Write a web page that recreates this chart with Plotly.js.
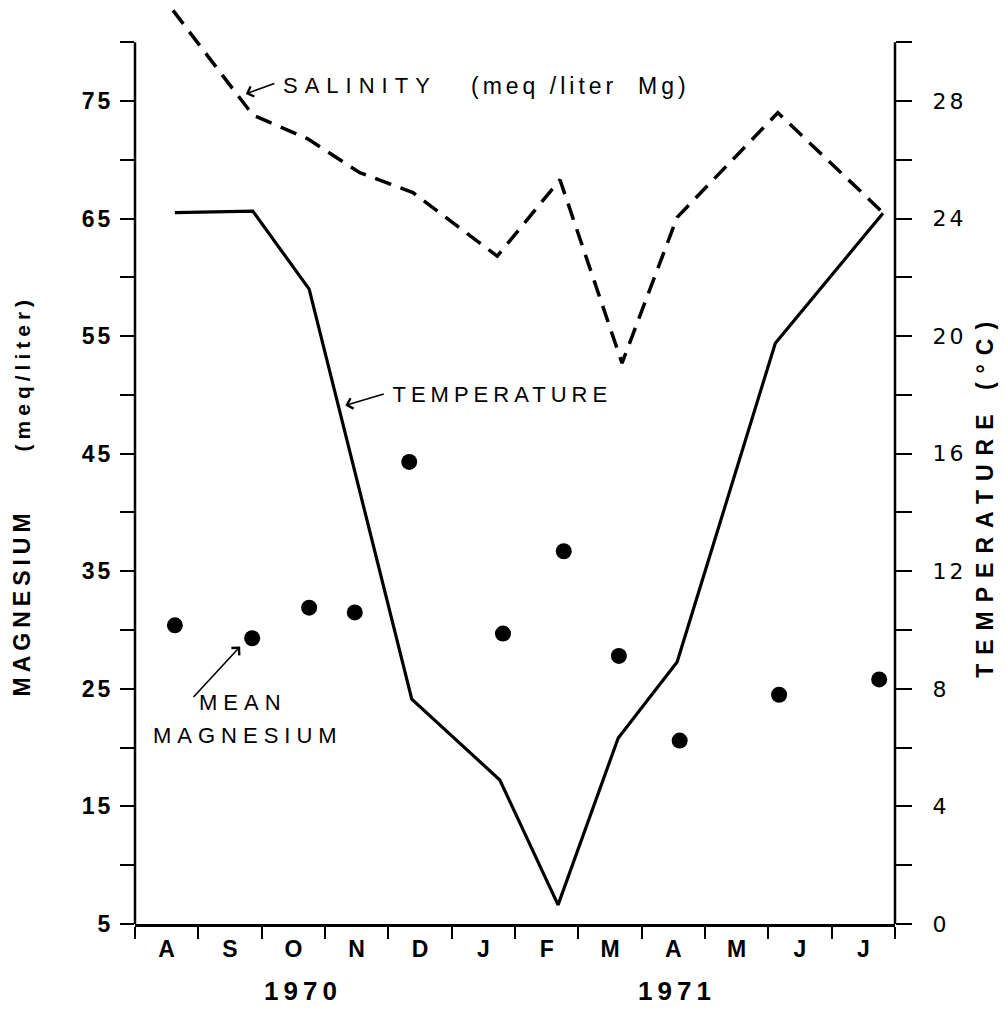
<!DOCTYPE html>
<html>
<head>
<meta charset="utf-8">
<script src="https://cdn.plot.ly/plotly-3.0.1.min.js"></script>
<style>
  html, body { margin: 0; padding: 0; background: #fff; }
  #chart { width: 1006px; height: 1010px; }
  .ytick text { letter-spacing: 3px; }
  .y2tick text { letter-spacing: 3px; }
  .annotation text { letter-spacing: 6px; }
  .annotation[data-index="0"] text { letter-spacing: 7px; }
  .annotation[data-index="1"] text { letter-spacing: 4px; }
  .annotation[data-index="2"] text { letter-spacing: 5px; }
  .annotation[data-index="5"] text, .annotation[data-index="6"] text { letter-spacing: 5px; }
  .annotation[data-index="7"] text { letter-spacing: 5px; }
  .annotation[data-index="8"] text { letter-spacing: 9px; }
</style>
</head>
<body>
<div id="chart"></div>
<script>
// ---- data ----
const monthLabels = ['A','S','O','N','D','J','F','M','A','M','J','J'];
const monthCenters = [0.5,1.5,2.5,3.5,4.5,5.5,6.5,7.5,8.5,9.5,10.5,11.5];
const yearLabels = ['1970','1971'];
const yearPositions = [2.65, 8.55];

// sampling dates in month units (0 = start of August 1970)
const salinityMonths = [0.60, 1.86, 2.72, 3.55, 4.39, 5.72, 6.71, 7.69, 8.56, 10.15, 11.81];
const salinityMg     = [82.7, 73.8, 71.8, 68.9, 67.2, 61.8, 68.3, 52.7, 65.1, 74.0, 65.5];

const tempMonths = [0.63, 1.86, 2.75, 4.37, 5.76, 6.68, 7.63, 8.56, 10.11, 11.81];
const tempC      = [24.2, 24.25, 21.6, 7.65, 4.9, 0.65, 6.33, 8.91, 19.76, 24.18];

const mgMonths = [0.63, 1.85, 2.75, 3.47, 4.33, 5.81, 6.77, 7.64, 8.60, 10.17, 11.75];
const meanMg   = [30.4, 29.3, 31.9, 31.5, 44.3, 29.7, 36.7, 27.8, 20.6, 24.5, 25.8];

const mgTickVals = [5,10,15,20,25,30,35,40,45,50,55,60,65,70,75,80];
const mgTickText = ['5','','15','','25','','35','','45','','55','','65','','75',''];
const tTickVals = [0,2,4,6,8,10,12,14,16,18,20,22,24,26,28,30];
const tTickText = ['0','','4','','8','','12','','16','','20','','24','','28',''];

const leftTitle = 'MAGNESIUM     <span style="font-size:21px">(meq/liter)</span>';
const rightTitle = 'TEMPERATURE (°C)';

const mgRange = [5, 83.5];
const tRange = [0, 31.4];
const axisTopFrac = (80 - mgRange[0]) / (mgRange[1] - mgRange[0]);

const traces = [
  { x: salinityMonths, y: salinityMg, type: 'scatter', mode: 'lines', name: 'Salinity',
    line: { color: '#000', width: 3.5, dash: '17px,10px' }, yaxis: 'y', hoverinfo: 'skip' },
  { x: tempMonths, y: tempC, type: 'scatter', mode: 'lines', name: 'Temperature',
    line: { color: '#000', width: 3.2 }, yaxis: 'y2' },
  { x: mgMonths, y: meanMg, type: 'scatter', mode: 'markers', name: 'Mean magnesium',
    marker: { color: '#000', size: 16 }, yaxis: 'y', cliponaxis: false }
];

const FAM = 'Liberation Sans, Arial, sans-serif';
const annFont = { family: FAM, size: 22, color: '#000' };
const yearFont = { family: FAM, size: 26, color: '#000', weight: 'bold' };
const layout = {
  width: 1006, height: 1010,
  margin: { l: 135, r: 111, t: 1, b: 86 },
  paper_bgcolor: '#fff', plot_bgcolor: '#fff',
  showlegend: false,
  xaxis: {
    range: [0, 12], showgrid: false, zeroline: false,
    showline: true, linecolor: '#000', linewidth: 2.5,
    tickmode: 'array', tickvals: monthCenters, ticktext: monthLabels,
    ticks: '', ticklabelstandoff: 3,
    tickfont: { family: FAM, size: 23, color: '#000', weight: 'bold' },
    minor: { tickmode: 'linear', tick0: 0, dtick: 1, ticks: 'outside', ticklen: 12, tickwidth: 2, tickcolor: '#000' }
  },
  yaxis: {
    range: mgRange, showgrid: false, zeroline: false, showline: false,
    tickmode: 'array', tickvals: mgTickVals, ticktext: mgTickText,
    ticks: 'outside', ticklen: 14, tickwidth: 2, tickcolor: '#000', ticklabelstandoff: 2,
    tickfont: { family: FAM, size: 23, color: '#000', weight: 'bold' }
  },
  yaxis2: {
    range: tRange, overlaying: 'y', side: 'right', showgrid: false, zeroline: false, showline: false,
    tickmode: 'array', tickvals: tTickVals, ticktext: tTickText,
    ticks: 'outside', ticklen: 16, tickwidth: 2, tickcolor: '#000', ticklabelstandoff: 16,
    tickfont: { family: 'DejaVu Sans, sans-serif', size: 22, color: '#000' }
  },
  shapes: [
    { type: 'line', xref: 'paper', yref: 'paper', x0: 0, x1: 0, y0: 0, y1: axisTopFrac,
      line: { color: '#000', width: 2.5 } },
    { type: 'line', xref: 'paper', yref: 'paper', x0: 1, x1: 1, y0: 0, y1: axisTopFrac,
      line: { color: '#000', width: 2.5 } }
  ],
  annotations: [
    { text: 'SALINITY', x: 3.55, y: 76.3, xref: 'x', yref: 'y', showarrow: false, font: annFont },
    { text: '(meq /liter  Mg)', x: 7.03, y: 76.3, xref: 'x', yref: 'y', showarrow: false,
      font: { family: FAM, size: 23, color: '#000' } },
    { text: 'TEMPERATURE', x: 5.8, y: 50.0, xref: 'x', yref: 'y', showarrow: false, font: annFont },
    { text: 'MEAN', x: 1.7, y: 23.8, xref: 'x', yref: 'y', showarrow: false, font: annFont },
    { text: 'MAGNESIUM', x: 1.78, y: 21.0, xref: 'x', yref: 'y', showarrow: false, font: annFont },
    { text: yearLabels[0], x: yearPositions[0], y: -0.073, xref: 'x', yref: 'paper', yanchor: 'middle',
      showarrow: false, font: yearFont },
    { text: yearLabels[1], x: yearPositions[1], y: -0.073, xref: 'x', yref: 'paper', yanchor: 'middle',
      showarrow: false, font: yearFont },
    { text: leftTitle, x: -0.1487, y: 0.4648, xref: 'paper', yref: 'paper', textangle: -90,
      xanchor: 'center', yanchor: 'middle', showarrow: false,
      font: { family: FAM, size: 23, color: '#000', weight: 'bold' } },
    { text: rightTitle, x: 1.1184, y: 0.465, xref: 'paper', yref: 'paper', textangle: -90,
      xanchor: 'center', yanchor: 'middle', showarrow: false,
      font: { family: FAM, size: 23, color: '#000', weight: 'bold' } },
    { text: '', x: 1.75, y: 75.6, xref: 'x', yref: 'y', showarrow: true, ax: 30, ay: -11,
      arrowhead: 4, arrowsize: 1.3, arrowwidth: 1.6, arrowcolor: '#000', standoff: 0 },
    { text: '', x: 3.32, y: 49.1, xref: 'x', yref: 'y', showarrow: true, ax: 40, ay: -12,
      arrowhead: 4, arrowsize: 1.3, arrowwidth: 1.6, arrowcolor: '#000', standoff: 0 },
    { text: '', x: 1.66, y: 28.6, xref: 'x', yref: 'y', showarrow: true, ax: -48, ay: 52,
      arrowhead: 4, arrowsize: 1.3, arrowwidth: 1.6, arrowcolor: '#000', standoff: 0 }
  ]
};

Plotly.newPlot('chart', traces, layout, { displayModeBar: false, staticPlot: true });
</script>
</body>
</html>
